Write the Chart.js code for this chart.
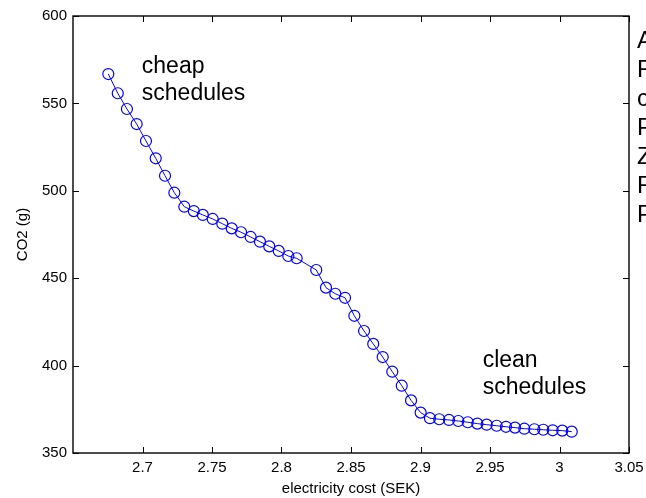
<!DOCTYPE html>
<html>
<head>
<meta charset="utf-8">
<script src="https://cdn.jsdelivr.net/npm/chart.js@4/dist/chart.umd.min.js"></script>
<style>
  html, body { margin: 0; padding: 0; background: #fff; }
  canvas { display: block; }
</style>
</head>
<body>
<canvas id="c" width="646" height="498"></canvas>
<script>
// Electricity cost (SEK) of each schedule on the trade-off front
const costSEK = [
  2.6754, 2.6822, 2.6888, 2.6958, 2.7025, 2.7095, 2.7162, 2.7229, 2.7301, 2.7369,
  2.7434, 2.7505, 2.7574, 2.7642, 2.7709, 2.7778, 2.7845, 2.7912, 2.7980, 2.8049,
  2.8109, 2.8250, 2.8320, 2.8387, 2.8457, 2.8524, 2.8594, 2.8660, 2.8728, 2.8797,
  2.8865, 2.8932, 2.9001, 2.9068, 2.9135, 2.9205, 2.9272, 2.9340, 2.9409, 2.9476,
  2.9548, 2.9615, 2.9680, 2.9747, 2.9819, 2.9883, 2.9951, 3.0020, 3.0088
];
// CO2 emissions (g) of the same schedules
const co2Grams = [
  566.8, 555.8, 546.8, 538.2, 528.5, 518.6, 508.6, 498.9, 490.9, 488.4,
  486.2, 483.9, 481.2, 478.5, 476.3, 473.6, 470.9, 468.2, 465.6, 462.7,
  461.4, 454.7, 444.6, 441.1, 438.8, 428.5, 419.8, 412.4, 404.9, 396.5,
  388.5, 380.1, 373.1, 369.9, 369.3, 368.9, 368.3, 367.6, 366.8, 366.2,
  365.6, 365.0, 364.5, 363.9, 363.6, 363.3, 363.0, 362.8, 362.2
];
// Axis tick values
const xTicks = [2.7, 2.75, 2.8, 2.85, 2.9, 2.95, 3, 3.05];
const yTicks = [350, 400, 450, 500, 550, 600];
// Text notes placed in data coordinates
const notes = [
  { x: 2.6995, y: 567.4, lines: ['cheap', 'schedules'] },
  { x: 2.9447, y: 399.2, lines: ['clean', 'schedules'] }
];
// Neighbouring text column cut by the figure edge
const sideLetters = ['A', 'F', 'c', 'P', 'Z', 'F', 'P'];

const FONT = '"Liberation Sans", Arial, Helvetica, sans-serif';

const points = costSEK.map((x, i) => ({ x, y: co2Grams[i] }));

const frame = {
  id: 'frame',
  afterDraw(chart) {
    const { ctx, chartArea: a, scales: { x, y } } = chart;
    ctx.save();
    ctx.strokeStyle = '#000';
    ctx.lineWidth = 1.4;
    ctx.strokeRect(a.left, a.top, a.right - a.left, a.bottom - a.top);
    const tl = 6;
    ctx.lineWidth = 1;
    ctx.beginPath();
    xTicks.forEach(v => {
      const px = Math.round(x.getPixelForValue(v)) + 0.5;
      ctx.moveTo(px, a.bottom); ctx.lineTo(px, a.bottom - tl);
      ctx.moveTo(px, a.top); ctx.lineTo(px, a.top + tl);
    });
    yTicks.forEach(v => {
      const py = Math.round(y.getPixelForValue(v)) + 0.5;
      ctx.moveTo(a.left, py); ctx.lineTo(a.left + tl, py);
      ctx.moveTo(a.right, py); ctx.lineTo(a.right - tl, py);
    });
    ctx.stroke();

    // annotations
    ctx.fillStyle = '#000';
    ctx.font = '23px ' + FONT;
    ctx.textAlign = 'left';
    ctx.textBaseline = 'alphabetic';
    notes.forEach(n => {
      const px = x.getPixelForValue(n.x);
      const py = y.getPixelForValue(n.y);
      n.lines.forEach((t, i) => ctx.fillText(t, px, py + i * 27));
    });

    // clipped text beyond the right border
    ctx.font = '24px ' + FONT;
    sideLetters.forEach((t, i) => ctx.fillText(t, 637, 48 + i * 29));
    ctx.restore();
  }
};

new Chart(document.getElementById('c'), {
  type: 'scatter',
  data: {
    datasets: [{
      data: points,
      showLine: true,
      borderColor: '#0000ff',
      borderWidth: 1,
      pointStyle: 'circle',
      pointRadius: 5.5,
      pointBorderWidth: 1.2,
      pointBorderColor: '#0000ff',
      pointBackgroundColor: 'rgba(0,0,0,0)',
      tension: 0
    }]
  },
  options: {
    responsive: false,
    animation: false,
    layout: { padding: { top: 16, right: 17, left: 0, bottom: 0 } },
    plugins: { legend: { display: false }, tooltip: { enabled: false } },
    scales: {
      x: {
        type: 'linear',
        min: 2.65, max: 3.05,
        afterFit(s) { s.height = 45; s.paddingLeft = 0; s.paddingRight = 0; },
        afterBuildTicks(s) { s.ticks = xTicks.map(v => ({ value: v })); },
        grid: { display: false, drawTicks: false },
        border: { display: false },
        ticks: {
          color: '#000',
          font: { family: FONT, size: 15 },
          padding: 6,
          maxRotation: 0,
          autoSkip: false,
          callback: v => String(v)
        },
        title: {
          display: true,
          text: 'electricity cost (SEK)',
          color: '#000',
          font: { family: FONT, size: 15 },
          padding: { top: 0, bottom: 0 }
        }
      },
      y: {
        type: 'linear',
        min: 350, max: 600,
        afterFit(s) { s.width = 73; s.paddingTop = 0; s.paddingBottom = 0; },
        afterBuildTicks(s) { s.ticks = yTicks.map(v => ({ value: v })); },
        grid: { display: false, drawTicks: false },
        border: { display: false },
        ticks: {
          color: '#000',
          font: { family: FONT, size: 15 },
          padding: 6,
          autoSkip: false,
          callback: v => String(v)
        },
        title: {
          display: true,
          text: 'CO2 (g)',
          color: '#000',
          font: { family: FONT, size: 15 },
          padding: { top: 14, bottom: 0 }
        }
      }
    }
  },
  plugins: [frame]
});
</script>
</body>
</html>
